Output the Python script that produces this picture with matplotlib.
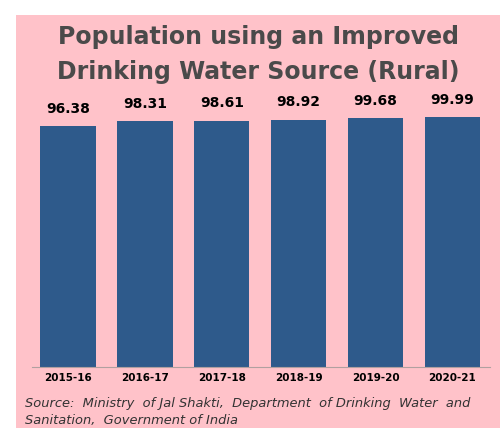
import matplotlib.pyplot as plt

# datos
years = ['2015-16', '2016-17', '2017-18', '2018-19', '2019-20', '2020-21']
values = [96.38, 98.31, 98.61, 98.92, 99.68, 99.99]

pink = '#ffc2c9'
bar_color = '#2e5a8b'

fig = plt.figure(figsize=(5, 4.28), dpi=100)
fig.patch.set_facecolor('white')

# fondo rosa
bg = plt.Rectangle((0.032, 0), 0.968, 0.965, transform=fig.transFigure,
                   facecolor=pink, edgecolor='none', zorder=-1)
fig.patches.append(bg)

ax = fig.add_axes([0.064, 0.1425, 0.916, 0.635])
ax.set_facecolor('none')

bars = ax.bar(range(len(years)), values, width=0.72, color=bar_color)

for b, v in zip(bars, values):
    ax.text(b.get_x() + b.get_width() / 2, v + 4.2, f'{v:.2f}',
            ha='center', va='bottom', fontsize=10, fontweight='bold', color='black')

ax.set_xlim(-0.47, 5.49)
ax.set_ylim(0, 108.8)
ax.set_xticks(range(len(years)))
ax.set_xticklabels(years, fontsize=7.5, fontweight='bold')
ax.tick_params(axis='x', length=0, pad=4)
ax.set_yticks([])
for s in ['top', 'right', 'left']:
    ax.spines[s].set_visible(False)
ax.spines['bottom'].set_color('#b0a0a0')

# titulo
fig.text(0.516, 0.913, 'Population using an Improved', ha='center', va='center',
         fontsize=17, color='#4a4a4a', fontweight='semibold')
fig.text(0.516, 0.832, 'Drinking Water Source (Rural)', ha='center', va='center',
         fontsize=17, color='#4a4a4a', fontweight='semibold')

# fuente
fig.text(0.05, 0.058, 'Source:  Ministry  of Jal Shakti,  Department  of Drinking  Water  and',
         ha='left', va='center', fontsize=9.4, style='italic', color='#333333')
fig.text(0.05, 0.018, 'Sanitation,  Government of India',
         ha='left', va='center', fontsize=9.4, style='italic', color='#333333')

fig.savefig('out.png', dpi=100, facecolor=fig.get_facecolor())
